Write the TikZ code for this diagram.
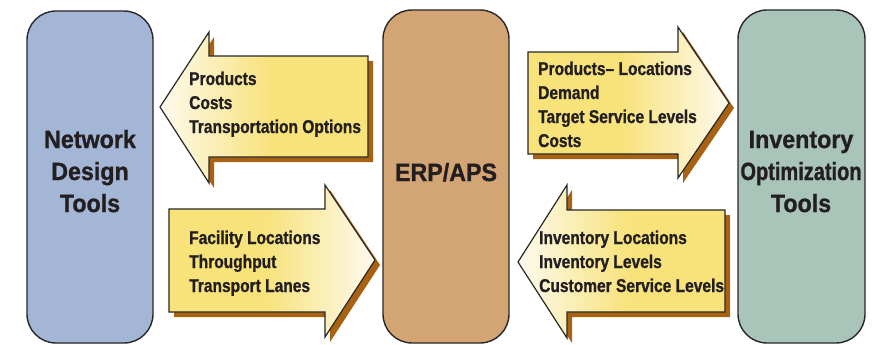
\documentclass[tikz,border=0pt]{standalone}
\usepackage{fontspec}
\setmainfont{Liberation Sans}
\newfontfamily\lblfont{Liberation Sans}[FakeStretch=0.84,FakeBold=1]
\newfontfamily\bigfont{Liberation Sans}[FakeStretch=0.93,FakeBold=1]
\newfontfamily\narrowfont{Liberation Sans}[FakeStretch=0.80,FakeBold=1]
\definecolor{boxblue}{RGB}{163,182,214}
\definecolor{boxtan}{RGB}{212,165,116}
\definecolor{boxgreen}{RGB}{169,197,186}
\definecolor{arryellow}{RGB}{248,226,122}
\definecolor{arrcream}{RGB}{253,250,238}
\definecolor{arrshadow}{RGB}{168,98,18}
\definecolor{inkdark}{RGB}{35,31,32}
\definecolor{edgegray}{RGB}{40,40,40}
\pgfdeclarehorizontalshading{tipleft}{100bp}{color(0bp)=(arrcream); color(25bp)=(arrcream); color(52bp)=(arryellow); color(100bp)=(arryellow)}
\pgfdeclarehorizontalshading{tipright}{100bp}{color(0bp)=(arryellow); color(48bp)=(arryellow); color(75bp)=(arrcream); color(100bp)=(arrcream)}
\begin{document}
\begin{tikzpicture}[x=1pt,y=-1pt,
  toolbox/.style={draw=edgegray, line width=1.4pt, rounded corners=29pt},
  arrowbody/.style={draw=edgegray, line width=1.2pt},
  arrowshadow/.style={fill=arrshadow},
  lbl/.style={anchor=base west, inner sep=0pt, text=inkdark, font=\lblfont\bfseries\fontsize{18.5}{24}\selectfont},
  big/.style={anchor=base, inner sep=0pt, text=inkdark, font=\bigfont\bfseries\fontsize{25}{32}\selectfont}]
\useasboundingbox (0,0) rectangle (876,345);
% tool boxes
\path[toolbox, fill=boxblue] (27,11) rectangle (153,343);
\path[toolbox, fill=boxtan] (383,10) rectangle (509,343);
\path[toolbox, fill=boxgreen] (738,10) rectangle (865,343);
\node[big] (nd1) at (90,148) {Network};
\node[big] (nd2) at (90,180) {Design};
\node[big] (nd3) at (90,212) {Tools};
\node[big] (erp) at (446,181) {ERP/APS};
\node[big] (io1) at (801,148) {Inventory};
\node[big, font=\narrowfont\bfseries\fontsize{25}{32}\selectfont] (io2) at (801,180) {Optimization};
\node[big] (io3) at (801,212) {Tools};
% arrow 1 (to network design)
\fill[arrowshadow, shift={(5,5)}] (160,107) -- (209,32) -- (209,56) -- (368,56) -- (368,157) -- (209,157) -- (209,183) -- cycle;
\path[arrowbody, shading=tipleft] (160,107) -- (209,32) -- (209,56) -- (368,56) -- (368,157) -- (209,157) -- (209,183) -- cycle;
% arrow 2 (to ERP)
\fill[arrowshadow, shift={(5,5)}] (169,209) -- (325,209) -- (325,185) -- (375,260) -- (325,337) -- (325,312) -- (169,312) -- cycle;
\path[arrowbody, shading=tipright] (169,209) -- (325,209) -- (325,185) -- (375,260) -- (325,337) -- (325,312) -- (169,312) -- cycle;
% arrow 3 (to inventory)
\fill[arrowshadow, shift={(5,5)}] (528,52) -- (678,52) -- (678,27) -- (729,103) -- (678,178) -- (678,154) -- (528,154) -- cycle;
\path[arrowbody, shading=tipright] (528,52) -- (678,52) -- (678,27) -- (729,103) -- (678,178) -- (678,154) -- (528,154) -- cycle;
% arrow 4 (to ERP)
\fill[arrowshadow, shift={(5,5)}] (518,262) -- (567,185) -- (567,210) -- (725,210) -- (725,312) -- (567,312) -- (567,338) -- cycle;
\path[arrowbody, shading=tipleft] (518,262) -- (567,185) -- (567,210) -- (725,210) -- (725,312) -- (567,312) -- (567,338) -- cycle;
% labels
\node[lbl] (a1) at (189,85) {Products};
\node[lbl] (a2) at (189,109) {Costs};
\node[lbl] (a3) at (189,133) {Transportation Options};
\node[lbl] (b1) at (189,244) {Facility Locations};
\node[lbl] (b2) at (189,268) {Throughput};
\node[lbl] (b3) at (189,292) {Transport Lanes};
\node[lbl] (c1) at (538,75) {Products– Locations};
\node[lbl] (c2) at (538,99) {Demand};
\node[lbl] (c3) at (538,123) {Target Service Levels};
\node[lbl] (c4) at (538,147) {Costs};
\node[lbl] (d1) at (539,244) {Inventory Locations};
\node[lbl] (d2) at (539,268) {Inventory Levels};
\node[lbl] (d3) at (539,292) {Customer Service Levels};
\end{tikzpicture}
\end{document}
